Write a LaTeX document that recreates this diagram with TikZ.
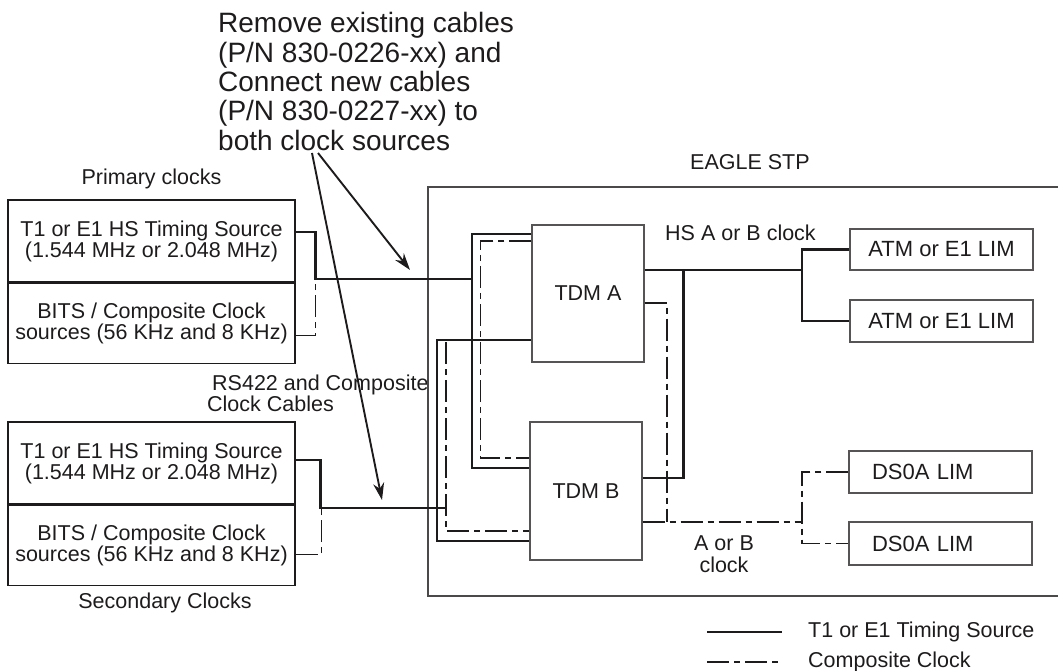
\documentclass[tikz,border=0pt]{standalone}
\usepackage{fontspec}
\setmainfont{Liberation Sans}
\usepackage{xcolor}
\usepackage{tikz}
\usetikzlibrary{arrows.meta,positioning}
\definecolor{inkgray}{RGB}{30,27,28}

\begin{document}
\begin{tikzpicture}[
  x=1pt, y=-1pt,
  txt/.style={font=\fontsize{21.5}{21}\selectfont, text=inkgray, inner sep=0pt},
  srcbox/.style={draw=inkgray, line width=1.2pt, minimum width=287pt,
    minimum height=82pt, inner sep=0pt, align=center,
    font=\fontsize{21.5}{21}\selectfont, text=inkgray},
  tdmbox/.style={draw=inkgray!75, line width=1.2pt, minimum width=112pt,
    minimum height=137pt, inner sep=0pt, font=\fontsize{21.5}{21}\selectfont, text=inkgray},
  limbox/.style={draw=inkgray!75, line width=1.2pt, minimum width=183pt,
    minimum height=42pt, inner sep=0pt, font=\fontsize{22}{21}\selectfont, text=inkgray},
  stpline/.style={draw=inkgray!80, line width=1.3pt},
  tline/.style={draw=inkgray, line width=2.9pt},
  cline/.style={draw=inkgray, line width=1.2pt, dash pattern=on 22pt off 5pt on 6pt off 5pt},
  arr/.style={-{Stealth[length=17pt,width=11pt]}, line width=1.9pt, inkgray}
]
\useasboundingbox (0,0) rectangle (1058,671);

% note on top
\node[txt, anchor=west, align=left, font=\fontsize{28}{29.3}\selectfont] (note) at (218,81.5)
  {Remove existing cables\\(P/N 830-0226-xx) and\\Connect new cables\\(P/N 830-0227-xx) to\\both clock sources};

% clock sources
\node[srcbox] (prim_ts) at (151.5,241) {T1 or E1 HS Timing Source\\(1.544 MHz or 2.048 MHz)};
\node[srcbox, minimum height=80pt, below=0pt of prim_ts] (prim_bits) {BITS / Composite Clock\\sources (56 KHz and 8 KHz)};
\node[txt, above=10pt of prim_ts] (prim_lbl) {Primary clocks};

\node[srcbox] (sec_ts) at (151.5,463) {T1 or E1 HS Timing Source\\(1.544 MHz or 2.048 MHz)};
\node[srcbox, minimum height=80pt, below=0pt of sec_ts] (sec_bits) {BITS / Composite Clock\\sources (56 KHz and 8 KHz)};
\node[txt] (sec_lbl) at (165,603) {Secondary Clocks};

\node[txt, anchor=west, align=left, font=\fontsize{21.5}{17}\selectfont] (cable_lbl) at (207,393.5)
  {\hspace*{5pt}RS422 and Composite\\Clock Cables};

% EAGLE STP frame
\draw[stpline] (1058,187) -| (428,596) -- (1058,596);
\node[txt, anchor=west] (stp_lbl) at (690,162) {EAGLE STP};

\node[tdmbox] (tdmA) at (588,293.5) {TDM A};
\node[tdmbox, minimum height=138pt] (tdmB) at (586,491) {TDM B};

\node[limbox, minimum height=41pt] (atm1) at (941.5,249.5) {ATM or E1 LIM};
\node[limbox] (atm2) at (941.5,321) {ATM or E1 LIM};
\node[limbox, text width=137pt, align=left] (ds1) at (940.5,472) {DS0A LIM};
\node[limbox, minimum height=43pt, text width=137pt, align=left] (ds2) at (940.5,543.5) {DS0A LIM};

\node[txt, anchor=west] (hs_lbl) at (665,233) {HS A or B clock};
\node[txt, align=center, font=\fontsize{21.5}{22}\selectfont] (ab_lbl) at (724,554) {A or B\\clock};

% junctions
\coordinate (busA) at (472,279);
\coordinate (busB) at (437,508);
\coordinate (ccBtop) at (446,342);
\coordinate (hsjoin) at (802,270);
\coordinate (ccjoin) at (667,522);
\coordinate (dsjoin) at (802,522);

% timing source (thick)
\draw[tline] ([yshift=9pt]prim_ts.east) -- ++(20,0) |- (busA);
\draw[tline] ([yshift=59.5pt]tdmA.west) -| (busA) |- ([yshift=23pt]tdmB.west);
\draw[tline] ([yshift=3pt]sec_ts.east) -- ++(25,0) |- (busB);
\draw[tline] ([yshift=-46.5pt]tdmA.west) -| (busB) |- ([yshift=-50pt]tdmB.west);
\draw[tline] ([yshift=23.5pt]tdmA.east) -- (hsjoin);
\draw[tline] ([yshift=13pt]tdmB.east) -- ++(41,0) |- (hsjoin);
\draw[tline] (atm1.west) -| (hsjoin) |- (atm2.west);

% composite clock (dash dot)
\draw[cline] ([yshift=-12pt]prim_bits.east) -- ++(20,0) -- ++(0,-55);
\draw[cline] ([yshift=-9pt]sec_bits.east) -- ++(26,0) -- ++(0,-45);
\draw[cline] ([yshift=52.5pt]tdmA.west) -- ++(-51,0) |- ([yshift=33pt]tdmB.west);
\draw[cline] (ccBtop) |- ([yshift=-40pt]tdmB.west);
\draw[inkgray, line width=1.2pt] (busB) -- (busB -| ccBtop);
\draw[cline] ([yshift=-9.5pt]tdmA.east) -| (ccjoin);
\draw[cline] ([yshift=-31pt]tdmB.east) -- (dsjoin);
\draw[cline] (ds1.west) -| (dsjoin) |- (ds2.west);

% pointers from the note
\coordinate (notefoot) at (315,153);
\coordinate (primcable) at (410,270);
\coordinate (seccable) at (382,500);
\draw[arr] ([xshift=3pt]notefoot) -- (primcable);
\draw[arr] ([xshift=-3pt]notefoot) -- (seccable);

% legend
\node[txt, anchor=west] (leg_t1) at (808,632) {T1 or E1 Timing Source};
\node[txt, anchor=west] (leg_cc) at (808,662) {Composite Clock};
\draw[tline, line width=2.4pt] ([xshift=-101pt]leg_t1.west) -- ([xshift=-26pt]leg_t1.west);
\draw[cline] ([xshift=-101pt]leg_cc.west) -- ([xshift=-26pt]leg_cc.west);

\end{tikzpicture}
\end{document}
